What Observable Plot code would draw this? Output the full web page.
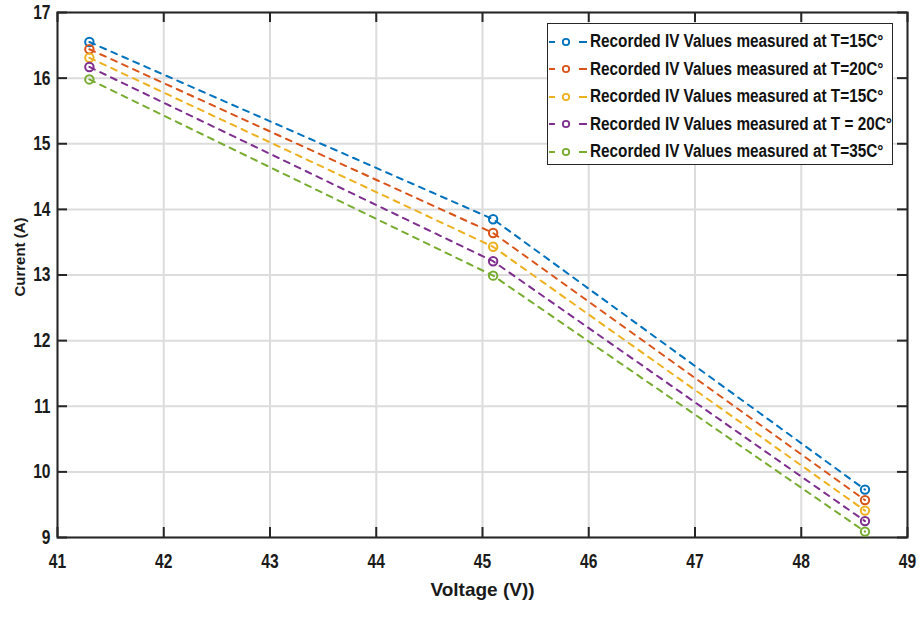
<!DOCTYPE html>
<html>
<head>
<meta charset="utf-8">
<script src="https://cdn.jsdelivr.net/npm/d3@7"></script>
<script src="https://cdn.jsdelivr.net/npm/@observablehq/plot@0.6"></script>
<style>
  html, body { margin: 0; padding: 0; background: #fff; }
  #chart { position: relative; width: 921px; height: 618px; }
  #legend {
    position: absolute; left: 547px; top: 23px; width: 344px; height: 136px;
    border: 1px solid #262626; background: #fff; box-sizing: content-box;
    padding-top: 4px;
    font-family: "Liberation Sans", Arial, sans-serif;
    font-weight: bold; font-size: 17.5px; color: #111;
  }
  .row { display: flex; align-items: center; height: 27.5px; white-space: nowrap; }
  .row svg { margin-left: 1px; margin-right: 1px; flex: none; }
  .row span { display: inline-block; transform: scaleX(0.875); transform-origin: left center; }
</style>
</head>
<body>
<div id="chart"></div>
<script>
// Measured IV points: voltage (V) against current (A) for each temperature run
const voltage = [41.3, 45.1, 48.6];
const current15a = [16.55, 13.85, 9.73];
const current20a = [16.44, 13.64, 9.57];
const current15b = [16.31, 13.43, 9.41];
const current20b = [16.17, 13.21, 9.25];
const current35  = [15.98, 12.99, 9.09];

const seriesIds = ["run1", "run2", "run3", "run4", "run5"];
const seriesCurrents = [current15a, current20a, current15b, current20b, current35];
const seriesLabels = [
  "Recorded IV Values measured at T=15C°",
  "Recorded IV Values measured at T=20C°",
  "Recorded IV Values measured at T=15C°",
  "Recorded IV Values measured at T = 20C°",
  "Recorded IV Values measured at T=35C°"
];
const seriesColors = ["#0072BD", "#D95319", "#EDB120", "#7E2F8E", "#77AC30"];

const xTicks = [41, 42, 43, 44, 45, 46, 47, 48, 49];
const yTicks = [9, 10, 11, 12, 13, 14, 15, 16, 17];

// Long-format table for the line and dot marks
const rows = seriesIds.flatMap((id, i) =>
  voltage.map((v, j) => ({series: id, voltage: v, current: seriesCurrents[i][j]}))
);

const W = 921, H = 618;
const mt = 12, mr = 14, mb = 81, ml = 57;
const frameW = W - ml - mr, frameH = H - mt - mb;
const tickLen = 10;
const axisColor = "#262626";
const textColor = "#1a1a1a";
const sans = "'Liberation Sans', Arial, sans-serif";

const plot = Plot.plot({
  width: W, height: H,
  marginTop: mt, marginRight: mr, marginBottom: mb, marginLeft: ml,
  style: {fontFamily: sans, fontWeight: "bold", color: textColor, background: "#fff"},
  x: {domain: [41, 49], axis: null},
  y: {domain: [9, 17], axis: null},
  color: {domain: seriesIds, range: seriesColors},
  marks: [
    Plot.gridX(xTicks, {stroke: "#dcdcdc", strokeOpacity: 1, strokeWidth: 2}),
    Plot.gridY(yTicks, {stroke: "#dcdcdc", strokeOpacity: 1, strokeWidth: 2}),
    // inward tick marks on all four sides
    Plot.ruleX(xTicks, {x: d => d, insetTop: frameH - tickLen, stroke: axisColor, strokeWidth: 2}),
    Plot.ruleX(xTicks, {x: d => d, insetBottom: frameH - tickLen, stroke: axisColor, strokeWidth: 2}),
    Plot.ruleY(yTicks, {y: d => d, insetRight: frameW - tickLen, stroke: axisColor, strokeWidth: 2}),
    Plot.ruleY(yTicks, {y: d => d, insetLeft: frameW - tickLen, stroke: axisColor, strokeWidth: 2}),
    Plot.frame({stroke: axisColor, strokeWidth: 2}),
    Plot.axisX(xTicks, {tickSize: 0, tickPadding: 16, tickFormat: d3.format("d"),
      fontSize: 20, fontWeight: "bold", label: null, fill: textColor}),
    Plot.axisY(yTicks, {tickSize: 0, tickPadding: 7, tickFormat: d3.format("d"),
      fontSize: 20, fontWeight: "bold", label: null, fill: textColor}),
    Plot.line(rows, {x: "voltage", y: "current", z: "series", stroke: "series",
      strokeWidth: 2, strokeDasharray: "6,6"}),
    Plot.dot(rows, {x: "voltage", y: "current", stroke: "series", r: 4.2, strokeWidth: 2, fill: "none"}),
    Plot.text(["Voltage (V))"], {frameAnchor: "bottom", textAnchor: "middle", lineAnchor: "middle",
      dy: 52, fontSize: 19, fontWeight: "bold", fill: textColor, ariaLabel: "x-title"}),
    Plot.text(["Current (A)"], {frameAnchor: "left", textAnchor: "middle", lineAnchor: "middle",
      rotate: -90, dx: -37, dy: -18, fontSize: 15, fontWeight: "bold", fill: textColor})
  ]
});

// Narrow the horizontal labels, scaling about each text's own anchor point
function condense(selector, k, size) {
  plot.querySelectorAll(selector).forEach(t => {
    const tr = t.getAttribute("transform") || "";
    t.setAttribute("transform", `${tr} scale(${k},1)`);
    if (size) t.style.fontSize = size;
  });
}
condense('g[aria-label="x-axis tick label"] text', 0.78, "20px");
condense('g[aria-label="y-axis tick label"] text', 0.78, "20px");
condense('g[aria-label="x-title"] text', 0.87);

const chart = document.getElementById("chart");
chart.appendChild(plot);

// Legend box in the upper right of the axes
const legend = document.createElement("div");
legend.id = "legend";
seriesIds.forEach((id, i) => {
  const row = document.createElement("div");
  row.className = "row";
  const c = seriesColors[i];
  row.innerHTML =
    `<svg width="40" height="14" viewBox="0 0 40 14">
       <line x1="0" y1="7" x2="6" y2="7" stroke="${c}" stroke-width="2"/>
       <line x1="30" y1="7" x2="38" y2="7" stroke="${c}" stroke-width="2"/>
       <circle cx="17" cy="7" r="3.2" fill="#fff" stroke="${c}" stroke-width="1.8"/>
     </svg><span>${seriesLabels[i]}</span>`;
  legend.appendChild(row);
});
chart.appendChild(legend);
</script>
</body>
</html>
